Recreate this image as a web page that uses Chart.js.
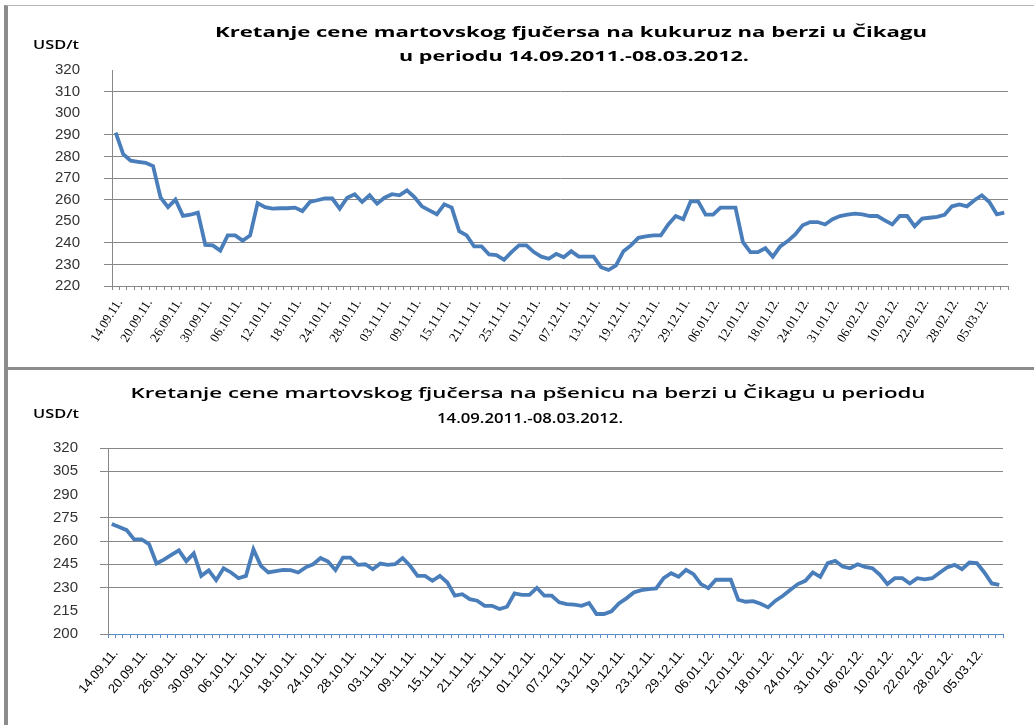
<!DOCTYPE html>
<html>
<head>
<meta charset="utf-8">
<script src="https://cdn.jsdelivr.net/npm/chart.js@4/dist/chart.umd.min.js"></script>
<style>
  body { margin: 0; background: #fff; width: 1034px; height: 725px; overflow: hidden; position: relative; }
  .panel { position: absolute; left: 4px; border-left: 4px solid #8c8c8c; }
  #topPanel { top: 5px; height: 362px; width: 1026px; border-top: 1px solid #b4b4b4; }
  #divider { position: absolute; left: 4px; top: 367px; width: 1030px; height: 3px; background: #8c8c8c; }
  #bottomPanel { top: 370px; height: 355px; width: 1026px; }
  canvas { display: block; }
</style>
</head>
<body>
<div class="panel" id="topPanel"><canvas id="cornChart" width="1022" height="361"></canvas></div>
<div id="divider"></div>
<div class="panel" id="bottomPanel"><canvas id="wheatChart" width="1022" height="355"></canvas></div>
<script>
// tick labels, one for every 4th trading day
var tickLabels = ['14.09.11.', '20.09.11.', '26.09.11.', '30.09.11.', '06.10.11.', '12.10.11.',
    '18.10.11.', '24.10.11.', '28.10.11.', '03.11.11.', '09.11.11.', '15.11.11.', '21.11.11.',
    '25.11.11.', '01.12.11.', '07.12.11.', '13.12.11.', '19.12.11.', '23.12.11.', '29.12.11.',
    '06.01.12.', '12.01.12.', '18.01.12.', '24.01.12.', '31.01.12.', '06.02.12.', '10.02.12.',
    '22.02.12.', '28.02.12.', '05.03.12.'];

// USD/t, corn March futures
var cornPrices = [291, 281, 278, 277.5, 277, 275.5, 261, 256.5, 260, 252.5,
    253, 254, 239, 238.8, 236.4, 243.4, 243.4, 241, 243.4, 258.4,
    256.5, 255.8, 256, 256, 256.3, 254.7, 258.9, 259.7, 260.5, 260.5,
    255.8, 260.9, 262.5, 258.9, 262, 258.1, 260.9, 262.5, 262, 264.3,
    261.2, 256.9, 255, 253.2, 257.8, 256.3, 245.4, 243.4, 238.3, 238.3,
    234.6, 234.3, 232.1, 235.7, 238.8, 238.8, 235.7, 233.6, 232.6, 234.9,
    233.3, 236.1, 233.6, 233.6, 233.6, 228.7, 227.4, 229.5, 236.1, 238.8,
    242.3, 243, 243.4, 243.4, 248.5, 252.4, 250.9, 259.2, 259.2, 253,
    253, 256.3, 256.3, 256.3, 240.3, 235.7, 235.7, 237.5, 233.6, 238.3,
    240.8, 243.9, 248.1, 249.6, 249.6, 248.5, 250.9, 252.4, 253, 253.5,
    253.2, 252.4, 252.4, 250.4, 248.5, 252.4, 252.4, 247.6, 251.2, 251.6,
    252, 253, 256.9, 257.8, 256.9, 259.7, 262, 258.9, 253.2, 254];

// USD/t, wheat March futures
var wheatPrices = [271, 269, 267, 261, 261, 258, 245.5, 248, 251, 254,
    247, 252, 237.5, 241, 234.7, 242.4, 239.7, 236, 237.5, 254.6,
    244, 239.7, 240.6, 241.4, 241.2, 239.7, 243, 245, 249, 246.7,
    241.2, 249.3, 249.3, 244.6, 245, 241.8, 245.4, 244.6, 245, 249,
    244, 237.5, 237.5, 234.3, 237.5, 233.2, 224.7, 225.7, 222.5, 221.5,
    218.2, 218.2, 216.1, 217.6, 226.2, 225.3, 225.3, 229.8, 224.7, 224.7,
    220.4, 219.3, 218.9, 218.2, 220, 212.9, 212.9, 214.6, 219.7, 223,
    226.8, 228.3, 228.9, 229.4, 236, 239.2, 236.9, 241.4, 238.6, 232.2,
    229.6, 235, 235, 235, 222.1, 220.8, 221.2, 219.5, 217.2, 221.5,
    224.7, 228.5, 232.2, 234.3, 239.7, 236.9, 245.7, 247.2, 243.5, 242.4,
    245, 243.3, 242.4, 238.2, 232.2, 236, 236, 232.6, 236, 235.2,
    236, 239.5, 243, 244.6, 241.8, 246.1, 245.7, 239.7, 232.6, 231.7];

var categories = cornPrices.map(function (v, i) {
    return i % 4 === 0 ? tickLabels[i / 4] : '';
});

// draws titles and unit label, stretched like the scanned original
var panelText = {
    id: 'panelText',
    afterDraw: function (chart, args, opts) {
        var ctx = chart.ctx;
        opts.items.forEach(function (it) {
            ctx.save();
            ctx.font = it.font;
            ctx.fillStyle = it.color || '#000';
            ctx.textAlign = 'center';
            ctx.textBaseline = 'middle';
            var w = ctx.measureText(it.text).width;
            ctx.translate(it.x, it.y);
            ctx.scale(it.width / w, 1);
            ctx.fillText(it.text, 0, 0);
            ctx.restore();
        });
    }
};

function makeChart(id, values, o) {
    return new Chart(document.getElementById(id), {
        type: 'line',
        data: {
            labels: categories,
            datasets: [{
                data: values,
                borderColor: '#4a7ebb',
                borderWidth: 3.8,
                pointRadius: 0,
                tension: 0,
                fill: false
            }]
        },
        plugins: [panelText],
        options: {
            responsive: false,
            animation: false,
            layout: { padding: { top: o.padTop, right: o.padRight, left: 0, bottom: 0 } },
            plugins: {
                legend: { display: false },
                tooltip: { enabled: false },
                panelText: { items: o.texts }
            },
            scales: {
                x: {
                    offset: true,
                    afterFit: function (s) { s.height = o.xHeight; },
                    grid: { drawOnChartArea: false, offset: true, tickLength: 4, color: o.xColor },
                    border: { color: o.xColor, width: 1 },
                    ticks: {
                        autoSkip: false, maxRotation: o.xRot, minRotation: o.xRot, padding: o.xPad,
                        labelOffset: 4, color: '#000', font: { family: o.xFont, size: o.xSize }
                    }
                },
                y: {
                    min: o.min, max: o.max,
                    afterFit: function (s) { s.width = o.yWidth; },
                    grid: {
                        tickLength: 8,
                        color: function (c) {
                            return c.tick && o.hideGrid.indexOf(c.tick.value) >= 0 ? 'rgba(0,0,0,0)' : '#878787';
                        }
                    },
                    border: { color: '#878787', width: 1 },
                    ticks: {
                        stepSize: o.step, padding: o.yPad, color: '#333',
                        font: { family: 'Liberation Sans', size: 15 }
                    }
                }
            }
        }
    });
}

makeChart('cornChart', cornPrices, {
    min: 220, max: 320, step: 10, hideGrid: [320, 300, 250],
    padTop: 64, padRight: 22, yWidth: 104, xHeight: 81, yPad: 24,
    xColor: '#878787', xFont: 'Liberation Serif', xSize: 13, xRot: 58, xPad: 6,
    texts: [
        { text: 'Kretanje cene martovskog fjučersa na kukuruz na berzi u Čikagu', x: 563, y: 27, width: 712,
          font: 'bold 15px "Open Sans"' },
        { text: 'u periodu 14.09.2011.-08.03.2012.', x: 566, y: 51, width: 350, font: 'bold 15px "Open Sans"' },
        { text: 'USD/t', x: 48, y: 39, width: 46, font: '600 13px "Open Sans"' }
    ]
});

makeChart('wheatChart', wheatPrices, {
    min: 200, max: 320, step: 15, hideGrid: [290, 215],
    padTop: 78, padRight: 27, yWidth: 100, xHeight: 91, yPad: 22,
    xColor: '#5b8cc8', xFont: 'Liberation Sans', xSize: 13, xRot: 50, xPad: 8,
    texts: [
        { text: 'Kretanje cene martovskog fjučersa na pšenicu na berzi u Čikagu u periodu', x: 520, y: 24, width: 795,
          font: '600 15px "Open Sans"' },
        { text: '14.09.2011.-08.03.2012.', x: 522, y: 49, width: 186, font: '600 15px "Open Sans"' },
        { text: 'USD/t', x: 48, y: 44, width: 46, font: '600 13px "Open Sans"' }
    ]
});
</script>
</body>
</html>
